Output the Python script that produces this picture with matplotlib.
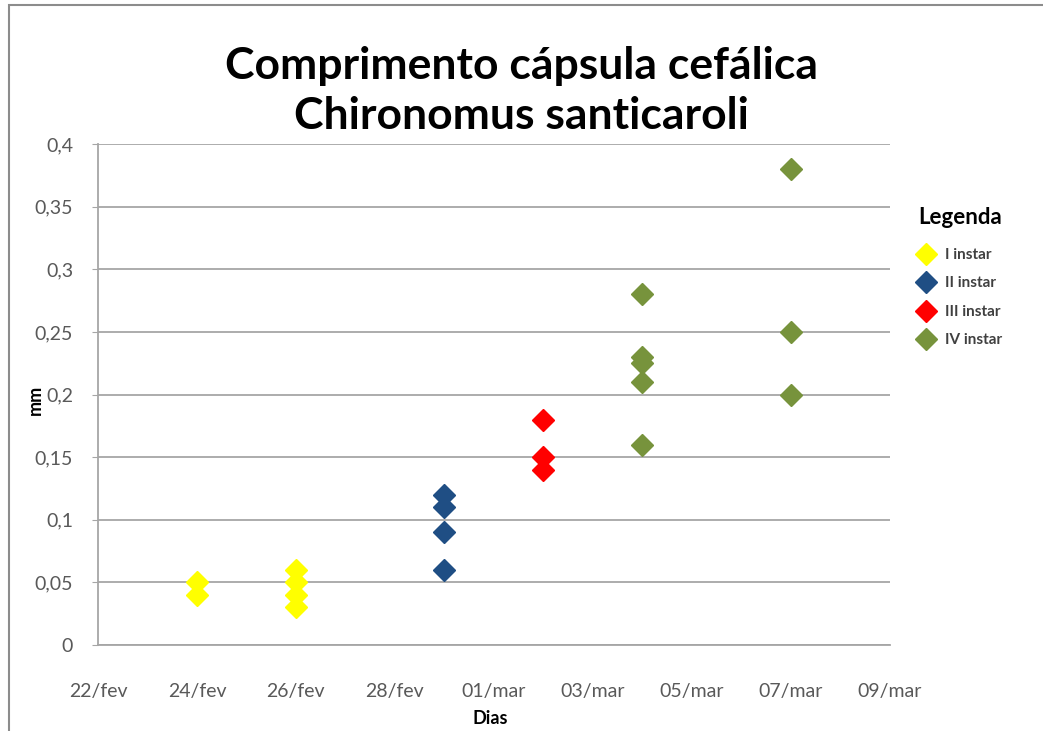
import matplotlib
matplotlib.use("Agg")
import matplotlib.pyplot as plt
from matplotlib.patches import Rectangle

plt.rcParams['font.family'] = ['Lato', 'DejaVu Sans']

# Data (x = days since 22/fev, leap year)
tick_labels = ["22/fev", "24/fev", "26/fev", "28/fev", "01/mar", "03/mar", "05/mar", "07/mar", "09/mar"]
tick_days = [0, 2, 4, 6, 8, 10, 12, 14, 16]

i_x = [2, 2, 4, 4, 4, 4]
i_y = [0.04, 0.05, 0.03, 0.04, 0.05, 0.06]
ii_x = [7, 7, 7, 7]
ii_y = [0.06, 0.09, 0.11, 0.12]
iii_x = [9, 9, 9]
iii_y = [0.14, 0.15, 0.18]
iv_x = [11, 11, 11, 11, 11, 14, 14, 14]
iv_y = [0.16, 0.21, 0.225, 0.23, 0.28, 0.20, 0.25, 0.38]

series = [
    ("I instar", i_x, i_y, "#FFFF00"),
    ("II instar", ii_x, ii_y, "#1F4E84"),
    ("III instar", iii_x, iii_y, "#FF0000"),
    ("IV instar", iv_x, iv_y, "#77933C"),
]

fig = plt.figure(figsize=(10.43, 7.31), dpi=100)
fig.patch.set_facecolor("white")
fig.add_artist(Rectangle((0.009, -0.01), 1.2, 1.003, transform=fig.transFigure,
                         fill=False, edgecolor="#8c8c8c", linewidth=1.5))

ax = fig.add_axes([0.094, 0.1176, 0.759, 0.6854])
for name, xs, ys, col in series:
    ax.plot(xs, ys, linestyle="none", marker="D", markersize=11, color=col,
            markeredgecolor=col, label=name, zorder=3)

ax.set_xlim(0, 16)
ax.set_ylim(0, 0.4)
ax.set_xticks(tick_days)
ax.set_xticklabels(tick_labels)
yt = [0, 0.05, 0.1, 0.15, 0.2, 0.25, 0.3, 0.35, 0.4]
ax.set_yticks(yt)
ax.set_yticklabels([("%g" % v).replace(".", ",") for v in yt])
ax.yaxis.grid(True, color="#a6a6a6", linewidth=1.3)
ax.set_axisbelow(True)
for s in ["top", "right"]:
    ax.spines[s].set_visible(False)
for s in ["left", "bottom"]:
    ax.spines[s].set_color("#a6a6a6")
    ax.spines[s].set_linewidth(1.3)
ax.tick_params(axis="x", length=0, pad=27, labelsize=14, labelcolor="#595959")
ax.tick_params(axis="y", length=4, color="#a6a6a6", pad=14, labelsize=14, labelcolor="#595959")

ax.set_xlabel("Dias", fontsize=13, fontweight="bold", labelpad=0)
ax.xaxis.set_label_coords(0.495, -0.13)
ax.set_ylabel("mm", fontsize=13, fontweight="bold")
ax.yaxis.set_label_coords(-0.068, 0.49)

fig.text(0.5, 0.875, "Comprimento cápsula cefálica\nChironomus santicaroli",
         ha="center", va="center", fontsize=32, fontweight="bold", linespacing=1.3)

leg = fig.legend(loc="upper left", bbox_to_anchor=(0.867, 0.735), frameon=False,
                 title="Legenda", title_fontproperties={"size": 16, "weight": "bold"},
                 prop={"size": 11, "weight": "bold"}, handletextpad=0.7,
                 labelspacing=0.95, markerscale=1.05, handlelength=1.0)
leg._legend_box.align = "right"
leg._legend_box.sep = 14
for t in leg.get_texts():
    t.set_color("#404040")

fig.savefig("out.png", dpi=100)
